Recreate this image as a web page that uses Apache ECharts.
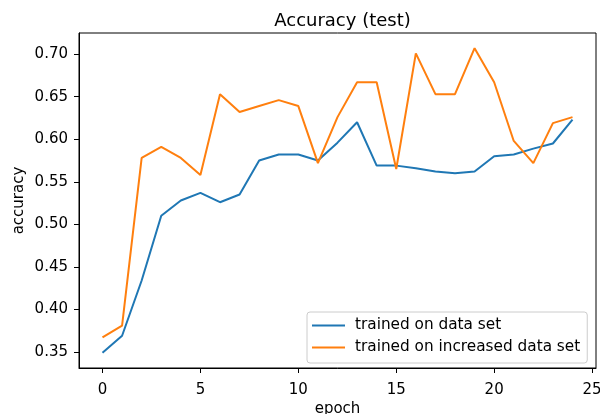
<!DOCTYPE html>
<html>
<head>
<meta charset="utf-8">
<script src="https://cdn.jsdelivr.net/npm/echarts@6/dist/echarts.min.js"></script>
<style>
  html, body { margin: 0; padding: 0; background: #fff; }
  #chart { width: 600px; height: 414px; }
</style>
</head>
<body>
<div id="chart"></div>
<script>
// Test accuracy per training epoch for the two training runs
const epochs = [0, 1, 2, 3, 4, 5, 6, 7, 8, 9, 10, 11, 12, 13, 14, 15, 16, 17, 18, 19, 20, 21, 22, 23, 24];
const trainedOnDataSet = [0.349, 0.369, 0.434, 0.510, 0.528, 0.537, 0.526, 0.535, 0.575, 0.582, 0.582, 0.575, 0.596, 0.620, 0.569, 0.569, 0.566, 0.562, 0.560, 0.562, 0.580, 0.582, 0.589, 0.595, 0.623];
const trainedOnIncreasedDataSet = [0.367, 0.381, 0.578, 0.591, 0.578, 0.558, 0.653, 0.632, 0.639, 0.646, 0.639, 0.572, 0.626, 0.667, 0.667, 0.565, 0.701, 0.653, 0.653, 0.707, 0.667, 0.598, 0.572, 0.619, 0.626];
const xTicks = [0, 5, 10, 15, 20, 25];
const yTicks = [0.35, 0.40, 0.45, 0.50, 0.55, 0.60, 0.65, 0.70];
const seriesNames = ['trained on data set', 'trained on increased data set'];

const FONT = 'DejaVu Sans';
const chart = echarts.init(document.getElementById('chart'), null, { renderer: 'canvas' });

function pairs(values) {
  return values.map((v, i) => [epochs[i], v]);
}

// axis limits padded by 5% of the data span on each side
const allVals = trainedOnDataSet.concat(trainedOnIncreasedDataSet);
const yLo = Math.min(...allVals), yHi = Math.max(...allVals);
const yPad = (yHi - yLo) * 0.05;
const xLo = epochs[0], xHi = epochs[epochs.length - 1];
const xPad = (xHi - xLo) * 0.05;

chart.setOption({
  animation: false,
  backgroundColor: '#fff',
  title: {
    text: 'Accuracy (test)',
    left: 337.5,
    top: 7,
    textAlign: 'center',
    textStyle: { fontFamily: FONT, fontSize: 18, fontWeight: 'normal', color: '#000' }
  },
  grid: {
    left: 79, right: 4, top: 33, bottom: 46,
    outerBoundsMode: 'none',
    containLabel: false,
    show: true, borderColor: '#000', borderWidth: 1, backgroundColor: 'transparent'
  },
  legend: {
    orient: 'vertical',
    left: 307,
    top: 312,
    data: seriesNames,
    icon: 'rect',
    itemWidth: 33,
    itemHeight: 2,
    itemGap: 7,
    padding: [6, 7, 8, 5],
    backgroundColor: 'rgba(255,255,255,0.8)',
    borderColor: '#cccccc',
    borderWidth: 1,
    borderRadius: 3,
    textStyle: { fontFamily: FONT, fontSize: 15.3, color: '#000', lineHeight: 15, padding: [0, 0, 0, 5] }
  },
  xAxis: {
    type: 'value',
    min: xLo - xPad,
    max: xHi + xPad,
    name: 'epoch',
    nameLocation: 'middle',
    nameGap: 34,
    nameMoveOverlap: false,
    nameTextStyle: { fontFamily: FONT, fontSize: 15, color: '#000' },
    axisLine: { show: true, onZero: false, lineStyle: { color: '#000', width: 1 } },
    axisTick: { show: true, customValues: xTicks, length: 5, lineStyle: { color: '#000' } },
    axisLabel: { customValues: xTicks, margin: 15, fontFamily: FONT, fontSize: 15, color: '#000' },
    splitLine: { show: false }
  },
  yAxis: {
    type: 'value',
    min: yLo - yPad,
    max: yHi + yPad,
    name: 'accuracy',
    nameLocation: 'middle',
    nameGap: 52,
    nameMoveOverlap: false,
    nameTextStyle: { fontFamily: FONT, fontSize: 15, color: '#000' },
    axisLine: { show: true, onZero: false, lineStyle: { color: '#000', width: 1 } },
    axisTick: { show: true, customValues: yTicks, length: 5, lineStyle: { color: '#000' } },
    axisLabel: {
      customValues: yTicks, margin: 11, fontFamily: FONT, fontSize: 15, color: '#000',
      formatter: v => v.toFixed(2)
    },
    splitLine: { show: false }
  },
  series: [
    {
      name: seriesNames[0],
      type: 'line',
      data: pairs(trainedOnDataSet),
      showSymbol: false,
      symbol: 'none',
      color: '#1f77b4',
      lineStyle: { color: '#1f77b4', width: 2 }
    },
    {
      name: seriesNames[1],
      type: 'line',
      data: pairs(trainedOnIncreasedDataSet),
      showSymbol: false,
      symbol: 'none',
      color: '#ff7f0e',
      lineStyle: { color: '#ff7f0e', width: 2 }
    }
  ]
});
</script>
</body>
</html>
